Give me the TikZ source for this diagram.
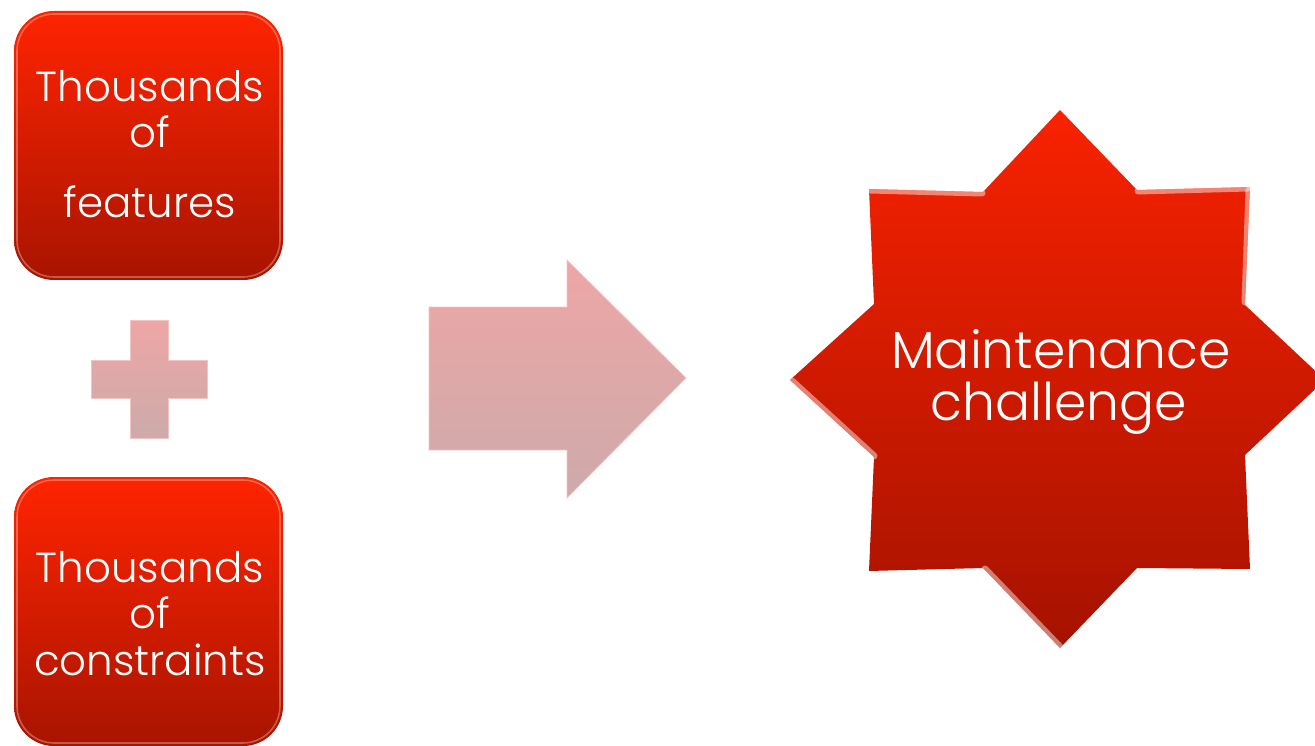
\documentclass[tikz,border=0pt]{standalone}
\usepackage{fontspec}
\newfontfamily\lab{Poppins Light}
\definecolor{boxtop}{HTML}{FF2400}
\definecolor{boxbot}{HTML}{A81400}
\definecolor{startop}{HTML}{F82200}
\definecolor{starbot}{HTML}{A51200}
\definecolor{pinktop}{HTML}{EEA6A6}
\definecolor{pinkbot}{HTML}{CDAAAA}
\definecolor{pinkedge}{HTML}{F3C4C4}
\tikzset{
  redbox/.style={top color=boxtop, bottom color=boxbot, rounded corners=40pt},
  bevel/.style={draw=white, draw opacity=0.3, line width=1.6pt, rounded corners=37pt},
  starshape/.style={top color=startop, bottom color=starbot},
  pinkshape/.style={top color=pinktop, bottom color=pinkbot, draw=pinkedge, line width=0.8pt},
  glint/.style={draw=white, draw opacity=0.45, line width=7pt, line cap=round},
  lbl/.style={text=white, inner sep=0pt, anchor=base, font=\lab\fontsize{42}{46}\selectfont},
  biglbl/.style={text=white, inner sep=0pt, anchor=base, font=\lab\fontsize{52}{52}\selectfont}
}
\begin{document}
\begin{tikzpicture}[x=1pt,y=-1pt]
\useasboundingbox (0,0) rectangle (1315,746);
\clip (0,0) rectangle (1315,746);
% top box
\path[redbox] (14,11) rectangle (283,280);
\path[bevel] (17,14) rectangle (280,277);
\node[lbl] (t1) at (150,102) {Thousands};
\node[lbl] (t2) at (150,148) {of};
\node[lbl] (t3) at (150,218) {features};
% bottom box
\path[redbox] (14,477) rectangle (283,746);
\path[bevel] (17,480) rectangle (280,743);
\node[lbl] (b1) at (150,582) {Thousands};
\node[lbl] (b2) at (150,628) {of};
\node[lbl] (b3) at (150,675) {constraints};
% plus
\path[pinkshape] (130,320) -- (168,320) -- (168,360) -- (207,360) -- (207,398) -- (168,398) -- (168,438) -- (130,438) -- (130,398) -- (91,398) -- (91,360) -- (130,360) -- cycle;
% arrow
\path[pinkshape] (429,307) -- (567,307) -- (567,260) -- (686,378) -- (567,498) -- (567,450) -- (429,450) -- cycle;
% star
\def\starpath{(1060,110) -- (1137,190) -- (1250,187) -- (1245,305) -- (1325,380) -- (1245,455) -- (1250,569) -- (1137,568) -- (1060,648) -- (983,568) -- (869,571) -- (874,457) -- (790,380) -- (874,304) -- (869,189) -- (983,192) -- cycle}
\path[starshape] \starpath;
\begin{scope}
  \clip \starpath;
  \draw[glint] (792,381) -- (874,456);
  \draw[glint] (985,569) -- (1060,647);
  \draw[glint] (1249,190) -- (1245,302);
  \draw[glint] (870,190) -- (982,193);
  \draw[glint] (1138,191) -- (1248,188);
\end{scope}
\node[biglbl] (m1) at (1061,368) {Maintenance};
\node[biglbl] (m2) at (1059,420) {challenge};
\end{tikzpicture}
\end{document}
